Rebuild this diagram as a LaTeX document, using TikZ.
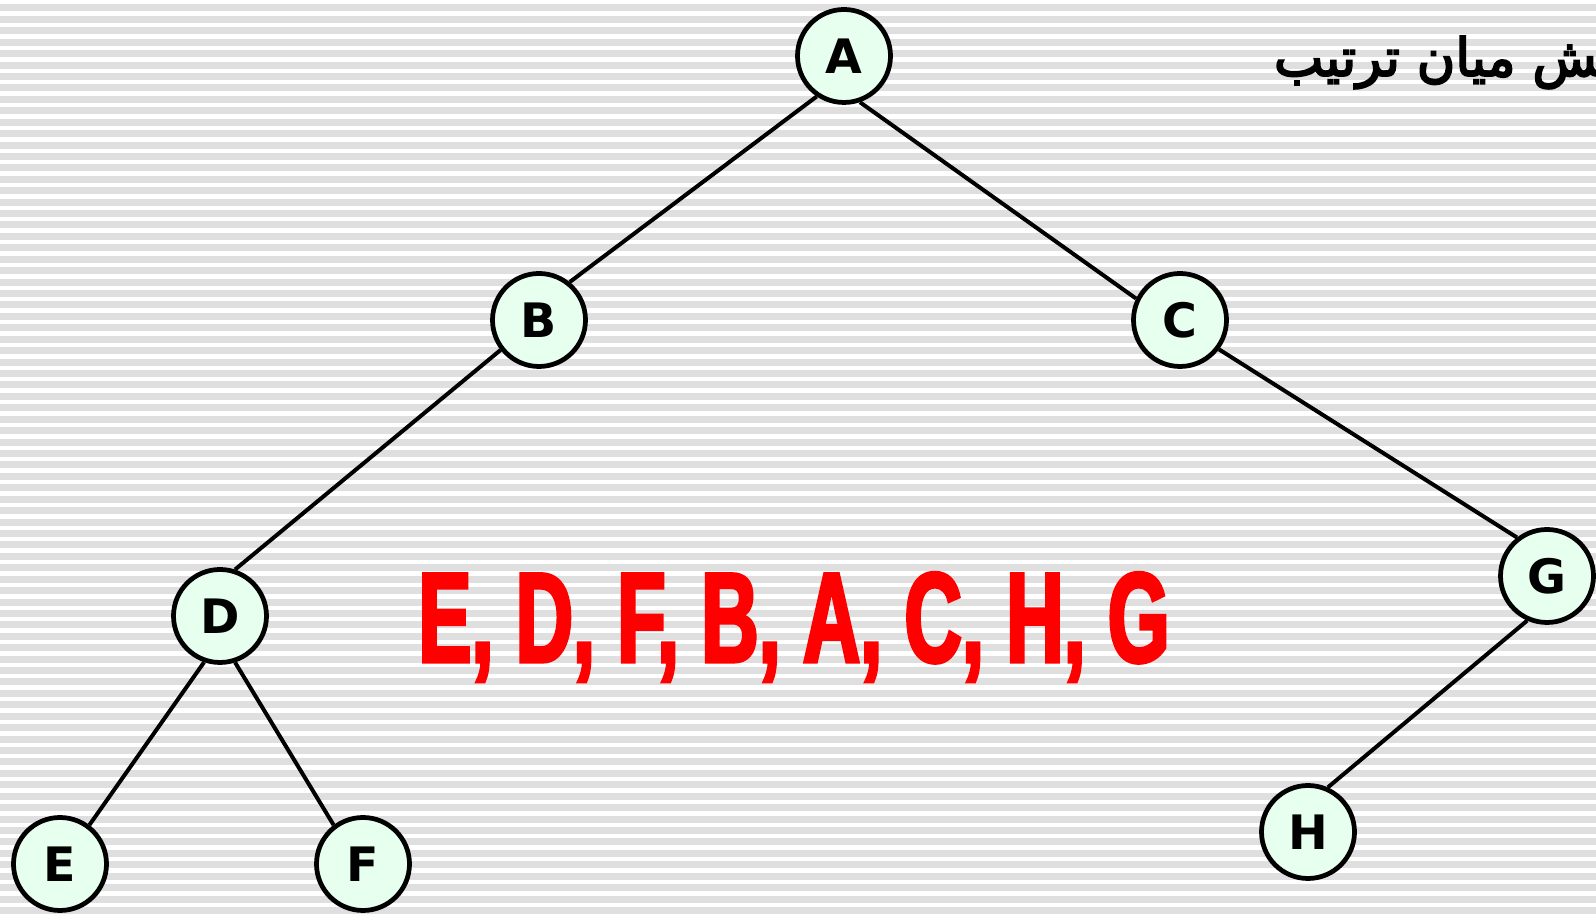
\documentclass[tikz,border=0pt]{standalone}
\usepackage{fontspec}
\usepackage{xcolor}
\usetikzlibrary{shapes,arrows,positioning}
\TeXXeTstate=1
\newfontfamily\keyfont{DejaVu Sans}
\newfontfamily\orderfont{Liberation Sans}[FakeStretch=0.62,FakeBold=2.5]
\newfontfamily\farsifont{DejaVu Sans}[Script=Arabic,FakeBold=3.5]
\definecolor{mint}{RGB}{230,255,238}

\begin{document}
\begin{tikzpicture}[node distance=2cm, auto]
    \tikzstyle{vertex} = [circle, draw, line width=0.095cm, fill=mint, minimum size=1.86cm, inner sep=0pt, font=\keyfont\bfseries\fontsize{27}{30}\selectfont]
    \tikzstyle{line} = [draw, line width=0.08cm]

    % striped background
    \useasboundingbox (0,0) rectangle (31.92,18.28);
    \fill [white] (0,0) rectangle (31.92,18.28);
    \foreach \i in {0,...,79}
        \fill [gray!25] (0,\i*0.2285) rectangle +(31.92,0.14);

    \node [vertex] (a) at (16.88,17.16) {A};
    \node [vertex] (b) at (10.78,11.88) {B};
    \node [vertex] (c) at (23.60,11.88) {C};
    \node [vertex] (d) at (4.40,5.96) {D};
    \node [vertex] (g) at (30.94,6.76) {G};
    \node [vertex] (e) at (1.20,1.00) {E};
    \node [vertex] (f) at (7.26,1.00) {F};
    \node [vertex] (h) at (26.16,1.64) {H};

    \path [line] (a.236) -- (b.51);
    \path [line] (a.289) -- (c.154);
    \path [line] (b.218) -- (d.72);
    \path [line] (d.251) -- (e.53);
    \path [line] (d.288) -- (f.127);
    \path [line] (c.323) -- (g.128);
    \path [line] (g.246) -- (h.66);

    % inorder result
    \node [anchor=base, text=red, font=\orderfont\bfseries\fontsize{73}{80}\selectfont] (order) at (15.88,5.04) {E, D, F, B, A, C, H, G};

    \node [anchor=base east, inner sep=0pt, font=\farsifont\fontsize{30}{34}\selectfont] (title) at (32.0,16.76) {\beginR^^^^200dش میان ترتیب\endR};
\end{tikzpicture}
\end{document}
